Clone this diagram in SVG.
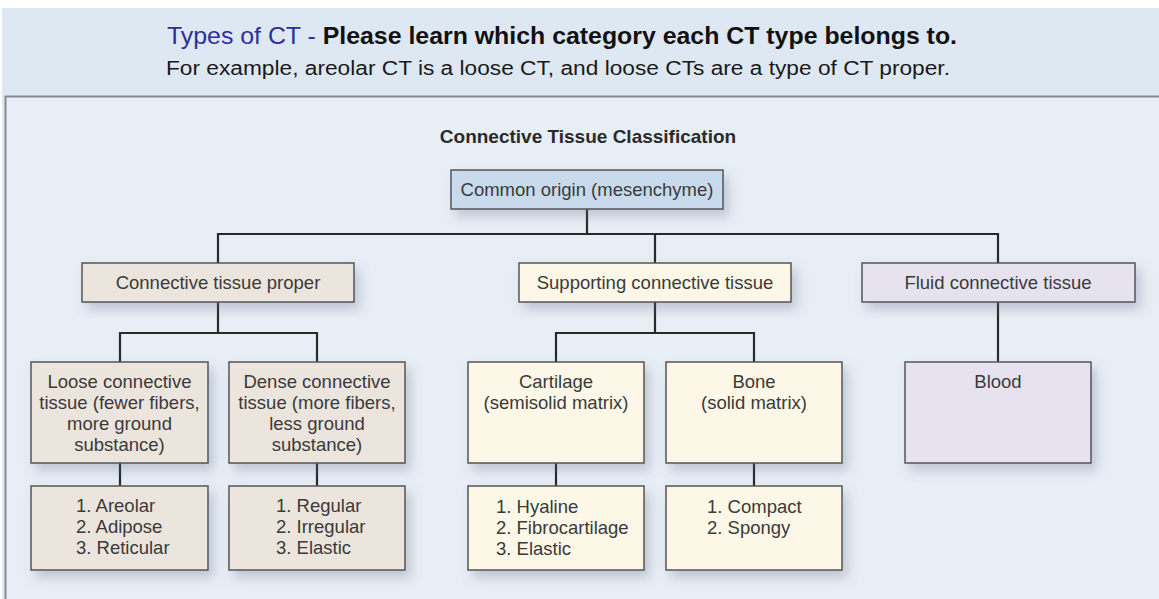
<svg xmlns="http://www.w3.org/2000/svg" width="1159" height="599" viewBox="0 0 1159 599">
<defs>
<filter id="sh" x="-20%" y="-20%" width="150%" height="160%">
<feDropShadow dx="5" dy="7" stdDeviation="6" flood-color="#5a6a80" flood-opacity="0.3"/>
</filter>
<style>
.box{stroke:#555;stroke-width:1.5;filter:url(#sh)}
.pr{fill:#ece5dd}
.su{fill:#fcf7e7}
.fl{fill:#e6e3ef}
.or{fill:#c9daec}
.t{font-family:"Liberation Sans",Arial,sans-serif;font-size:18.5px;fill:#3a3a3a}
.c{text-anchor:middle}
.conn{stroke:#2a2a2a;stroke-width:2.2;fill:none}
</style>
</defs>
<rect x="0" y="0" width="1159" height="599" fill="#ffffff"/>
<rect x="2" y="8" width="1157" height="591" fill="#dee8f3"/>
<rect x="5" y="96" width="1154" height="503" fill="#e8eef6"/>
<path d="M5.5 599 V96.5 H1159" fill="none" stroke="#868b92" stroke-width="2"/>
<g id="header">
<text x="167" y="44" font-family="Liberation Sans,Arial,sans-serif" font-size="24" textLength="790" lengthAdjust="spacingAndGlyphs"><tspan fill="#2e2e9c">Types of CT - </tspan><tspan fill="#111" font-weight="bold">Please learn which category each CT type belongs to.</tspan></text>
<text x="166" y="75" font-family="Liberation Sans,Arial,sans-serif" font-size="20" fill="#1a1a1a" textLength="784" lengthAdjust="spacingAndGlyphs">For example, areolar CT is a loose CT, and loose CTs are a type of CT proper.</text>
</g>
<text id="title" class="t c" x="588" y="143" font-weight="bold" font-size="19" style="font-size:19px;fill:#2a2a2a">Connective Tissue Classification</text>
<g id="connectors" class="conn">
<path d="M587 209 V234 M218 263 V234 H998 V263 M655 234 V263"/>
<path d="M218 302 V333 M120 362 V333 H317 V362"/>
<path d="M655 302 V333 M556 362 V333 H754 V362"/>
<path d="M998 302 V362"/>
<path d="M120 463 V486 M317 463 V486 M556 463 V486 M754 463 V486"/>
</g>
<g id="origin"><rect class="box or" x="451" y="170" width="272" height="39"/><text class="t c" x="587" y="196">Common origin (mesenchyme)</text></g>
<g id="proper"><rect class="box pr" x="82" y="263" width="272" height="39"/><text class="t c" x="218" y="289">Connective tissue proper</text></g>
<g id="supporting"><rect class="box su" x="519" y="263" width="272" height="39"/><text class="t c" x="655" y="289">Supporting connective tissue</text></g>
<g id="fluid"><rect class="box fl" x="862" y="263" width="273" height="39"/><text class="t c" x="998" y="289">Fluid connective tissue</text></g>
<g id="loose"><rect class="box pr" x="31" y="362" width="177" height="101"/><text class="t c" x="119.5" y="388"><tspan x="119.5">Loose connective</tspan><tspan x="119.5" dy="21">tissue (fewer fibers,</tspan><tspan x="119.5" dy="21">more ground</tspan><tspan x="119.5" dy="21">substance)</tspan></text></g>
<g id="dense"><rect class="box pr" x="229" y="362" width="176" height="101"/><text class="t c" x="317" y="388"><tspan x="317">Dense connective</tspan><tspan x="317" dy="21">tissue (more fibers,</tspan><tspan x="317" dy="21">less ground</tspan><tspan x="317" dy="21">substance)</tspan></text></g>
<g id="cartilage"><rect class="box su" x="468" y="362" width="176" height="101"/><text class="t c" x="556" y="388"><tspan x="556">Cartilage</tspan><tspan x="556" dy="21">(semisolid matrix)</tspan></text></g>
<g id="bone"><rect class="box su" x="666" y="362" width="176" height="101"/><text class="t c" x="754" y="388"><tspan x="754">Bone</tspan><tspan x="754" dy="21">(solid matrix)</tspan></text></g>
<g id="blood"><rect class="box fl" x="905" y="362" width="186" height="101"/><text class="t c" x="998" y="388">Blood</text></g>
<g id="loose-list"><rect class="box pr" x="31" y="486" width="177" height="84"/><text class="t" x="76" y="512"><tspan x="76">1. Areolar</tspan><tspan x="76" dy="21">2. Adipose</tspan><tspan x="76" dy="21">3. Reticular</tspan></text></g>
<g id="dense-list"><rect class="box pr" x="229" y="486" width="176" height="84"/><text class="t" x="276" y="512"><tspan x="276">1. Regular</tspan><tspan x="276" dy="21">2. Irregular</tspan><tspan x="276" dy="21">3. Elastic</tspan></text></g>
<g id="cartilage-list"><rect class="box su" x="468" y="486" width="176" height="84"/><text class="t" x="496" y="513"><tspan x="496">1. Hyaline</tspan><tspan x="496" dy="21">2. Fibrocartilage</tspan><tspan x="496" dy="21">3. Elastic</tspan></text></g>
<g id="bone-list"><rect class="box su" x="666" y="486" width="176" height="84"/><text class="t" x="707" y="513"><tspan x="707">1. Compact</tspan><tspan x="707" dy="21">2. Spongy</tspan></text></g>
</svg>
